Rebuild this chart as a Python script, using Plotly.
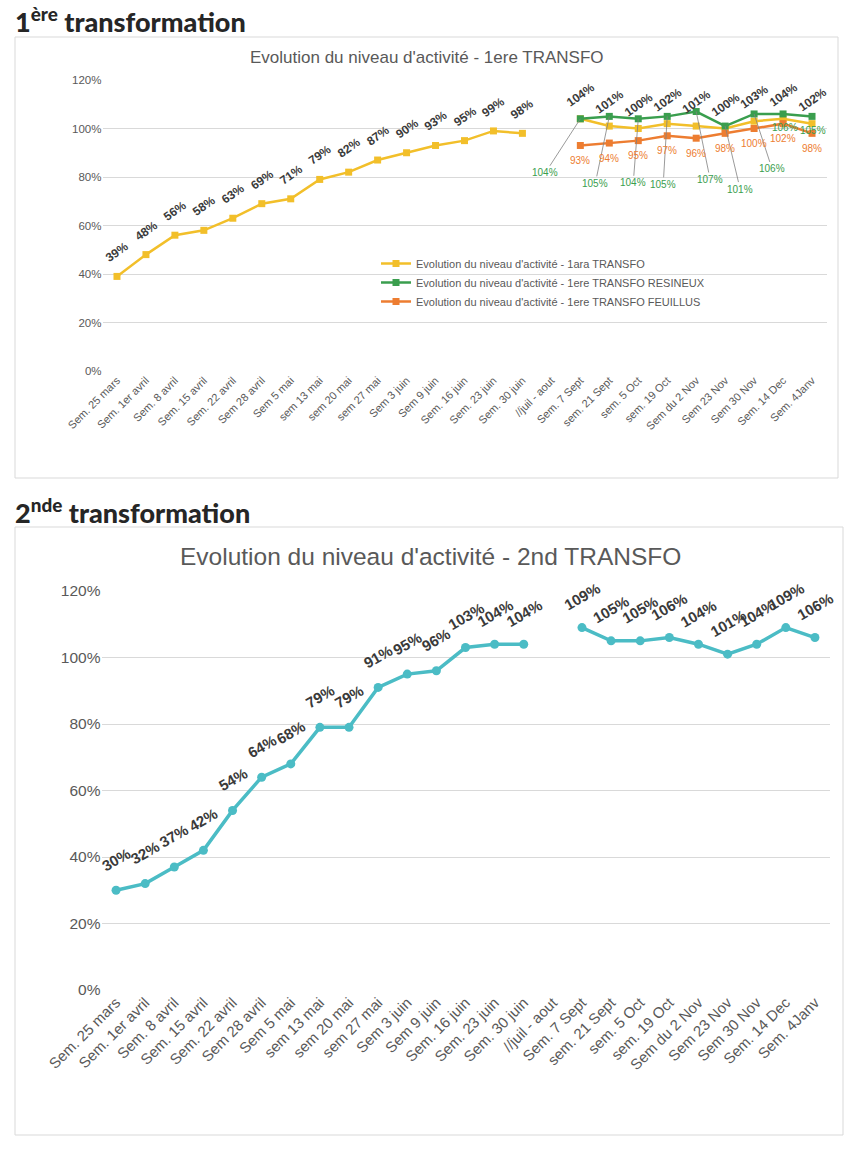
import plotly.graph_objects as go

# ---------------- data ----------------
categories = [
    "Sem. 25 mars", "Sem. 1er avril", "Sem. 8 avril", "Sem. 15 avril", "Sem. 22 avril",
    "Sem 28 avril", "Sem 5 mai", "sem 13 mai", "sem 20 mai", "sem 27 mai",
    "Sem 3 juin", "Sem 9 juin", "Sem. 16 juin", "Sem. 23 juin", "Sem. 30 juin",
    "//juil - aout", "Sem. 7 Sept", "sem. 21 Sept", "sem. 5 Oct", "sem. 19 Oct",
    "Sem du 2 Nov", "Sem 23 Nov", "Sem 30 Nov", "Sem. 14 Dec", "Sem. 4Janv",
]
transfo1 = [39, 48, 56, 58, 63, 69, 71, 79, 82, 87, 90, 93, 95, 99, 98, None,
            104, 101, 100, 102, 101, 100, 103, 104, 102]
resineux = [None] * 16 + [104, 105, 104, 105, 107, 101, 106, 106, 105]
feuillus = [None] * 16 + [93, 94, 95, 97, 96, 98, 100, 102, 98]
transfo2 = [30, 32, 37, 42, 54, 64, 68, 79, 79, 91, 95, 96, 103, 104, 104, None,
            109, 105, 105, 106, 104, 101, 104, 109, 106]
yticks = [0, 20, 40, 60, 80, 100, 120]
ytick_labels = [f"{v}%" for v in yticks]

names = [
    "Evolution du niveau d'activité - 1ara TRANSFO",
    "Evolution du niveau d'activité - 1ere TRANSFO RESINEUX",
    "Evolution du niveau d'activité - 1ere TRANSFO FEUILLUS",
]

# ---------------- style ----------------
W, H = 860, 1149
YEL, GRN, ORG, TEAL = "#F2BF2A", "#3A9E4E", "#ED7D31", "#4BBCC5"
GRID = "#D9D9D9"
TXT = "#595959"
LBL = "#3A3A3A"
FONT = "Liberation Sans, Arial, sans-serif"

# pixel offsets (label placement) for green leader labels
green_ax = [-35, -14, -5, -4, 14, 15, 18, 2, 1]
green_ay = [54, 67, 64, 68, 68, 63, 55, 14, 14]
green_arrow = [True, True, True, True, True, True, True, False, False]


def px_x(x):
    return x / W


def px_y(y):
    return 1 - y / H


fig = go.Figure()

fig.add_trace(go.Scatter(x=categories, y=transfo1, name=names[0], mode="lines+markers",
                         line=dict(color=YEL, width=2.5), marker=dict(symbol="square", size=7, color=YEL),
                         xaxis="x", yaxis="y", cliponaxis=False))
fig.add_trace(go.Scatter(x=categories, y=resineux, name=names[1], mode="lines+markers",
                         line=dict(color=GRN, width=2.5), marker=dict(symbol="square", size=7, color=GRN),
                         xaxis="x", yaxis="y", cliponaxis=False))
fig.add_trace(go.Scatter(x=categories, y=feuillus, name=names[2], mode="lines+markers",
                         line=dict(color=ORG, width=2.5), marker=dict(symbol="square", size=7, color=ORG),
                         xaxis="x", yaxis="y", cliponaxis=False))
fig.add_trace(go.Scatter(x=categories, y=transfo2, name="2nd", mode="lines+markers",
                         line=dict(color=TEAL, width=3.5), marker=dict(symbol="circle", size=9, color=TEAL),
                         xaxis="x2", yaxis="y2", cliponaxis=False, showlegend=False))

annotations = []
for c, v in zip(categories, transfo1):
    if v is None:
        continue
    annotations.append(dict(x=c, y=v, xref="x", yref="y", text=f"{v}%", showarrow=False,
                            textangle=-35, yshift=24,
                            font=dict(family=FONT, size=12, color=LBL, weight="bold")))
gi = 0
for c, v in zip(categories, resineux):
    if v is None:
        continue
    if green_arrow[gi]:
        annotations.append(dict(x=c, y=v, xref="x", yref="y", text=f"{v}%", showarrow=True,
                                arrowhead=0, arrowwidth=0.8, arrowcolor="#808080", standoff=0,
                                ax=green_ax[gi], ay=green_ay[gi],
                                font=dict(family=FONT, size=10, color=GRN)))
    else:
        annotations.append(dict(x=c, y=v, xref="x", yref="y", text=f"{v}%", showarrow=False,
                                xshift=green_ax[gi], yshift=-green_ay[gi],
                                font=dict(family=FONT, size=10, color=GRN)))
    gi += 1
for c, v in zip(categories, feuillus):
    if v is None:
        continue
    annotations.append(dict(x=c, y=v, xref="x", yref="y", text=f"{v}%", showarrow=False,
                            yshift=-15, font=dict(family=FONT, size=10, color=ORG)))
for c, v in zip(categories, transfo2):
    if v is None:
        continue
    annotations.append(dict(x=c, y=v, xref="x2", yref="y2", text=f"{v}%", showarrow=False,
                            textangle=-30, yshift=31,
                            font=dict(family=FONT, size=15, color=LBL, weight="bold")))

HEAD = dict(family="Lato, DejaVu Sans, sans-serif", size=27, color="#262626", weight=900)
annotations += [
    dict(x=px_x(13), y=px_y(20), xref="paper", yref="paper", xanchor="left", yanchor="middle",
         text="1<sup>ère</sup> transformation", showarrow=False, font=HEAD),
    dict(x=px_x(13), y=px_y(511), xref="paper", yref="paper", xanchor="left", yanchor="middle",
         text="2<sup>nde</sup> transformation", showarrow=False, font=HEAD),
    dict(x=px_x(427), y=px_y(57), xref="paper", yref="paper", xanchor="center", yanchor="middle",
         text="Evolution du niveau d'activité - 1ere TRANSFO", showarrow=False,
         font=dict(family=FONT, size=17, color=TXT)),
    dict(x=px_x(430), y=px_y(556), xref="paper", yref="paper", xanchor="center", yanchor="middle",
         text="Evolution du niveau d'activité - 2nd TRANSFO", showarrow=False,
         font=dict(family=FONT, size=24.5, color=TXT)),
]

shapes = [
    dict(type="rect", xref="paper", yref="paper", x0=px_x(15), x1=px_x(838), y0=px_y(478), y1=px_y(37),
         line=dict(color=GRID, width=1), fillcolor="rgba(0,0,0,0)", layer="below"),
    dict(type="rect", xref="paper", yref="paper", x0=px_x(15), x1=px_x(843), y0=px_y(1135), y1=px_y(527),
         line=dict(color=GRID, width=1), fillcolor="rgba(0,0,0,0)", layer="below"),
]

n = len(categories)
axis_common = dict(type="category", categoryorder="array", categoryarray=categories,
                   range=[-0.5, n - 0.5], autorange=False,
                   showgrid=False, zeroline=False, showline=False, ticks="", tickangle=-45,
                   automargin=False)
yaxis_common = dict(range=[0, 120], tickvals=yticks, ticktext=ytick_labels, showgrid=True,
                    gridcolor=GRID, gridwidth=1, zeroline=False, showline=False, ticks="",
                    automargin=False)

fig.update_layout(
    template="none",
    width=W, height=H, autosize=False,
    margin=dict(l=0, r=0, t=0, b=0, pad=0),
    paper_bgcolor="white", plot_bgcolor="white",
    showlegend=True,
    legend=dict(x=px_x(376), y=px_y(249), xanchor="left", yanchor="top",
                font=dict(family=FONT, size=11, color=TXT), bgcolor="rgba(0,0,0,0)",
                itemwidth=30, tracegroupgap=0),
    xaxis=dict(**axis_common, domain=[px_x(102.5), px_x(826.5)], anchor="y",
               tickfont=dict(family=FONT, size=11, color=TXT)),
    yaxis=dict(**yaxis_common, domain=[px_y(371), px_y(80)], anchor="x",
               tickfont=dict(family=FONT, size=11.5, color=TXT)),
    xaxis2=dict(**axis_common, domain=[px_x(101.5), px_x(829.5)], anchor="y2",
                tickfont=dict(family=FONT, size=15, color=TXT)),
    yaxis2=dict(**yaxis_common, domain=[px_y(990), px_y(591)], anchor="x2",
                tickfont=dict(family=FONT, size=15.5, color=TXT)),
    annotations=annotations,
    shapes=shapes,
)

fig.write_html("out.html", config={"displayModeBar": False},
               post_script="document.body.style.margin='0';")
